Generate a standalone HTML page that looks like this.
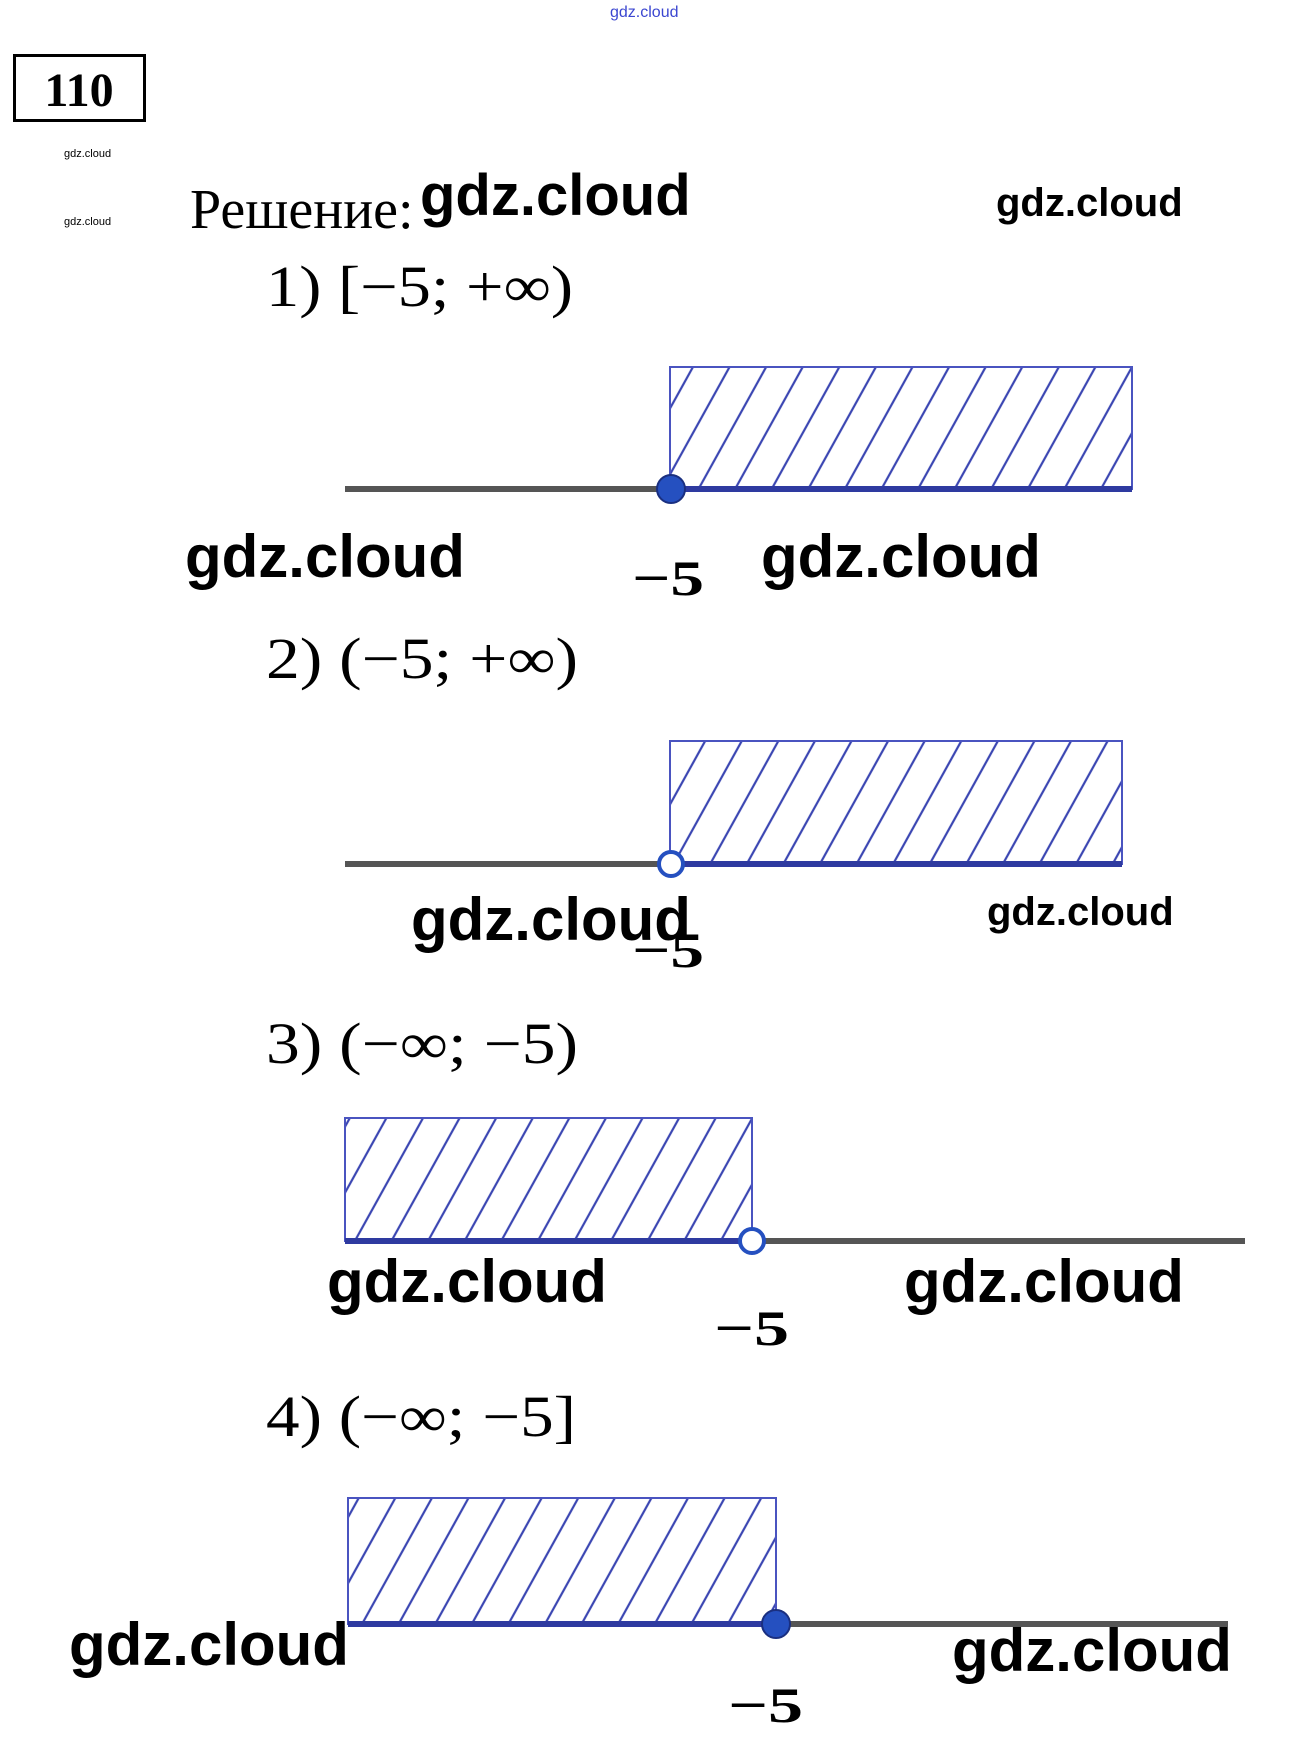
<!DOCTYPE html>
<html><head><meta charset="utf-8"><style>
html,body{margin:0;padding:0;background:#fff;}
svg{display:block;}
.w{font-family:"Liberation Sans",sans-serif;font-weight:bold;fill:#000;}
.s{font-family:"Liberation Serif",serif;fill:#000;}
</style></head><body>
<svg width="1298" height="1762" viewBox="0 0 1298 1762" xmlns="http://www.w3.org/2000/svg">
<defs>
<pattern id="h" patternUnits="userSpaceOnUse" width="32" height="200" patternTransform="rotate(29)">
<line x1="16" y1="0" x2="16" y2="200" stroke="#3b46b2" stroke-width="2.2"/>
</pattern>
</defs>
<text x="610" y="17" font-family="Liberation Sans,sans-serif" font-size="16" fill="#3b46d0">gdz.cloud</text>
<rect x="14.5" y="55.5" width="130" height="65" fill="none" stroke="#000" stroke-width="3"/>
<text x="79" y="106" text-anchor="middle" class="s" font-size="48" font-weight="bold">110</text>
<text x="64" y="157" font-family="Liberation Sans,sans-serif" font-size="11">gdz.cloud</text>
<text x="64" y="225" font-family="Liberation Sans,sans-serif" font-size="11">gdz.cloud</text>
<text x="190" y="228" class="s" font-size="56">Решение:</text>
<text x="420" y="215" class="w" font-size="58">gdz.cloud</text>
<text x="996" y="216" class="w" font-size="40">gdz.cloud</text>

<text x="266" y="306" class="s" font-size="58" textLength="307" lengthAdjust="spacingAndGlyphs">1) [−5; +∞)</text>
<rect x="670" y="367" width="462" height="122" fill="url(#h)" stroke="#4a54c0" stroke-width="2"/>
<line x1="345" y1="489" x2="670" y2="489" stroke="#555" stroke-width="6"/>
<line x1="670" y1="489" x2="1132" y2="489" stroke="#2e3aa0" stroke-width="6"/>
<circle cx="671" cy="489" r="14" fill="#2550c0" stroke="#1a2f80" stroke-width="2"/>
<text x="185" y="577" class="w" font-size="60">gdz.cloud</text>
<text x="632" y="595" class="s" font-size="50" font-weight="bold" textLength="72" lengthAdjust="spacingAndGlyphs">−5</text>
<text x="761" y="577" class="w" font-size="60">gdz.cloud</text>

<text x="266" y="678" class="s" font-size="58" textLength="312" lengthAdjust="spacingAndGlyphs">2) (−5; +∞)</text>
<rect x="670" y="741" width="452" height="123" fill="url(#h)" stroke="#4a54c0" stroke-width="2"/>
<line x1="345" y1="864" x2="670" y2="864" stroke="#555" stroke-width="6"/>
<line x1="670" y1="864" x2="1122" y2="864" stroke="#2e3aa0" stroke-width="6"/>
<circle cx="671" cy="864" r="12" fill="#fff" stroke="#2550c0" stroke-width="4"/>
<text x="411" y="940" class="w" font-size="60">gdz.cloud</text>
<text x="632" y="967" class="s" font-size="50" font-weight="bold" textLength="72" lengthAdjust="spacingAndGlyphs">−5</text>
<text x="987" y="925" class="w" font-size="40">gdz.cloud</text>

<text x="266" y="1063" class="s" font-size="58" textLength="312" lengthAdjust="spacingAndGlyphs">3) (−∞; −5)</text>
<rect x="345" y="1118" width="407" height="123" fill="url(#h)" stroke="#4a54c0" stroke-width="2"/>
<line x1="345" y1="1241" x2="752" y2="1241" stroke="#2e3aa0" stroke-width="6"/>
<line x1="752" y1="1241" x2="1245" y2="1241" stroke="#555" stroke-width="6"/>
<circle cx="752" cy="1241" r="12" fill="#fff" stroke="#2550c0" stroke-width="4"/>
<text x="327" y="1302" class="w" font-size="60">gdz.cloud</text>
<text x="904" y="1302" class="w" font-size="60">gdz.cloud</text>
<text x="714" y="1345" class="s" font-size="50" font-weight="bold" textLength="75" lengthAdjust="spacingAndGlyphs">−5</text>

<text x="266" y="1436" class="s" font-size="58" textLength="310" lengthAdjust="spacingAndGlyphs">4) (−∞; −5]</text>
<rect x="348" y="1498" width="428" height="126" fill="url(#h)" stroke="#4a54c0" stroke-width="2"/>
<line x1="348" y1="1624" x2="776" y2="1624" stroke="#2e3aa0" stroke-width="6"/>
<line x1="776" y1="1624" x2="1228" y2="1624" stroke="#555" stroke-width="6"/>
<circle cx="776" cy="1624" r="14" fill="#2550c0" stroke="#1a2f80" stroke-width="2"/>
<text x="69" y="1665" class="w" font-size="60">gdz.cloud</text>
<text x="952" y="1671" class="w" font-size="60">gdz.cloud</text>
<text x="728" y="1722" class="s" font-size="50" font-weight="bold" textLength="75" lengthAdjust="spacingAndGlyphs">−5</text>
</svg>
</body></html>
